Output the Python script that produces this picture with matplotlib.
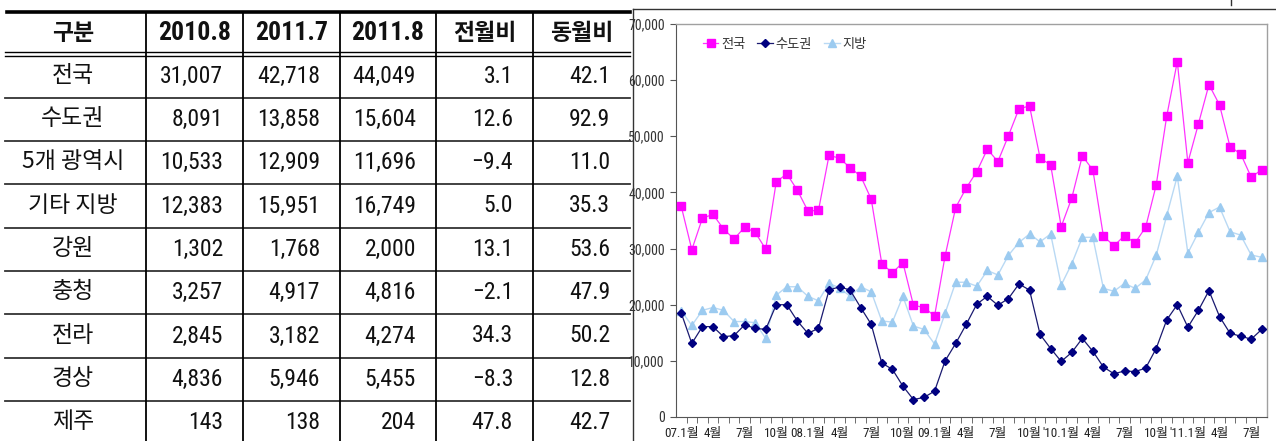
import matplotlib
matplotlib.use("Agg")
import matplotlib.pyplot as plt
from matplotlib import font_manager
import numpy as np

# 폰트: 숫자는 좁은 글꼴(있으면), 한글은 Noto Sans CJK KR
KR = "Noto Sans CJK KR"
ttf = font_manager.fontManager.ttflist
names = {f.name for f in ttf}
NARROW, STRETCH, SCALE = "Liberation Sans", "normal", 0.80
for n in ["Liberation Sans Narrow", "Roboto Condensed", "Open Sans Condensed",
          "Noto Sans Condensed", "DejaVu Sans Condensed"]:
    if n in names:
        NARROW, STRETCH, SCALE = n, "normal", 1.0
        break
else:
    for f in ttf:
        if f.name in ("Roboto", "Noto Sans", "Open Sans", "DejaVu Sans", "Liberation Sans") \
                and str(f.stretch) in ("condensed", "semi-condensed", "extra-condensed"):
            NARROW, STRETCH, SCALE = f.name, f.stretch, 0.95
            break
FAM = [NARROW, KR]

# ---- 표 데이터 ----
headers = ["구분", "2010.8", "2011.7", "2011.8", "전월비", "동월비"]
regions = ["전국", "수도권", "5개 광역시", "기타 지방", "강원", "충청", "전라", "경상", "제주"]
v2010_8 = [31007, 8091, 10533, 12383, 1302, 3257, 2845, 4836, 143]
v2011_7 = [42718, 13858, 12909, 15951, 1768, 4917, 3182, 5946, 138]
v2011_8 = [44049, 15604, 11696, 16749, 2000, 4816, 4274, 5455, 204]
mom = [3.1, 12.6, -9.4, 5.0, 13.1, -2.1, 34.3, -8.3, 47.8]
yoy = [42.1, 92.9, 11.0, 35.3, 53.6, 47.9, 50.2, 12.8, 42.7]

# ---- 그래프 데이터 (07.1월 ~ 11.8월, 월별) ----
xlabels = ["07.1월", "4월", "7월", "10월", "08.1월", "4월", "7월", "10월",
           "09.1월", "4월", "7월", "10월", "'10.1월", "4월", "7월", "10월",
           "'11.1월", "4월", "7월"]
national = [37500, 29800, 35400, 36100, 33500, 31700, 33800, 32900, 29900, 41900,
            43300, 40400, 36700, 36800, 46600, 46100, 44400, 42900, 38800, 27300,
            25700, 27500, 19900, 19500, 18000, 28700, 37300, 40800, 43700, 47700,
            45500, 50100, 54900, 55400, 46100, 44900, 33900, 39000, 46500, 44000,
            32200, 30500, 32300, 31007, 33800, 41300, 53600, 63300, 45300, 52200,
            59200, 55600, 48100, 46900, 42718, 44049]
capital = [18500, 13100, 16100, 16100, 14300, 14500, 16400, 15800, 15600, 20000,
           20000, 17100, 14900, 15800, 22600, 23200, 22600, 19500, 16500, 9600,
           8500, 5500, 3100, 3500, 4600, 10000, 13100, 16500, 20100, 21500,
           19900, 21100, 23700, 22600, 14700, 12200, 9900, 11500, 14000, 11700,
           8900, 7700, 8200, 8091, 8700, 12200, 17300, 20000, 16000, 19000,
           22500, 17900, 14900, 14400, 13858, 15604]
local = [18900, 16300, 19000, 19500, 19000, 17000, 17000, 16800, 14000, 21700,
         23200, 23200, 21500, 20700, 23800, 23000, 21500, 23200, 22300, 17100,
         16900, 21500, 16200, 15600, 13000, 18500, 24000, 24000, 23300, 26100,
         25300, 28800, 31100, 32600, 31200, 32600, 23500, 27300, 32000, 32000,
         22900, 22400, 23800, 22916, 24400, 28800, 35900, 42900, 29200, 32900,
         36400, 37400, 33000, 32400, 28860, 28445]

W, H = 1276, 441
fig = plt.figure(figsize=(W / 100, H / 100), dpi=100)

# ---------------- 표 (왼쪽) ----------------
tab = fig.add_axes([0, 0, 1, 1])
tab.set_xlim(0, W)
tab.set_ylim(H, 0)
tab.axis("off")

col_x = [0, 146, 243, 340, 436, 533, 630]
row_y = [55, 98, 141, 184, 228, 271, 314, 358, 401, 444]

# 선
tab.plot([7, 630], [12, 12], color="black", lw=2.6)
tab.plot([5, 630], [52, 52], color="black", lw=1.0)
tab.plot([5, 630], [55.5, 55.5], color="black", lw=1.0)
for y in row_y[1:-1]:
    tab.plot([5, 630], [y, y], color="#333333", lw=1.3)
for x in col_x[1:-1]:
    tab.plot([x, x], [12, H], color="black", lw=1.3)

# 머리글
for i, h in enumerate(headers):
    cx = (col_x[i] + col_x[i + 1]) / 2
    if i in (1, 2, 3):
        tab.text(cx, 33, h, ha="center", va="center", family=FAM, stretch=STRETCH,
                 fontsize=18.5 * SCALE, fontweight="bold", color="#111111")
    else:
        tab.text(cx, 33, h, ha="center", va="center", family=KR,
                 fontsize=16.5, fontweight="bold", color="#111111")

def fmt(v):
    return f"{v:.1f}".replace("-", "\u2212")

for r, name in enumerate(regions):
    cy = (row_y[r] + row_y[r + 1]) / 2 - 1
    tab.text((col_x[0] + col_x[1]) / 2, cy, name, ha="center", va="center",
             family=KR, fontsize=16.5, color="#111111")
    cells = [f"{v2010_8[r]:,}", f"{v2011_7[r]:,}", f"{v2011_8[r]:,}",
             fmt(mom[r]), fmt(yoy[r])]
    for c, s in enumerate(cells):
        tab.text(col_x[c + 2] - 20, cy + 1, s, ha="right", va="center",
                 family=FAM, stretch=STRETCH, fontsize=17 * SCALE, color="#111111")

# 그래프 영역 테두리
tab.plot([633, W], [9, 9], color="#333333", lw=1.0)
tab.plot([633, 633], [9, H], color="#333333", lw=1.0)
tab.plot([1231, 1231], [0, 5], color="#333333", lw=1.0)

# ---------------- 그래프 (오른쪽) ----------------
ax = fig.add_axes([676 / W, 1 - 417 / H, (1267 - 676) / W, (417 - 24) / H])
x = np.arange(len(national))

ax.plot(x, local, color="#B9D9F4", lw=1.0, marker="^", ms=5.8,
        markerfacecolor="#9CCBF0", markeredgecolor="#9CCBF0", label="지방", zorder=2)
ax.plot(x, capital, color="#1A1A70", lw=0.9, marker="D", ms=4.3,
        markerfacecolor="#000080", markeredgecolor="#000080", label="수도권", zorder=3)
ax.plot(x, national, color="#FF33FF", lw=0.9, marker="s", ms=5.6,
        markerfacecolor="#FF00FF", markeredgecolor="#FF00FF", label="전국", zorder=4)

ax.set_xlim(-0.5, len(national) - 0.5)
ax.set_ylim(0, 70000)
ax.set_yticks(np.arange(0, 70001, 10000))
ax.set_yticklabels([f"{v:,}" for v in range(0, 70001, 10000)])
ax.set_xticks(np.arange(0, len(national), 3))
ax.set_xticklabels(xlabels)
ax.set_xticks(np.arange(0.5, len(national) - 0.5, 1), minor=True)
ax.tick_params(axis="x", which="major", length=0, pad=7, labelcolor="#222222")
ax.tick_params(axis="x", which="minor", length=4, color="#555555", direction="out")
ax.tick_params(axis="y", length=4, color="#555555", pad=4, labelcolor="#333333")
for lab in ax.get_xticklabels():
    lab.set_family(FAM)
    lab.set_stretch(STRETCH)
    lab.set_fontsize(9.4 * SCALE)
for lab in ax.get_yticklabels():
    lab.set_family(FAM)
    lab.set_stretch(STRETCH)
    lab.set_fontsize(10 * SCALE)

for side in ("top", "right"):
    ax.spines[side].set_color("#A0A0A0")
    ax.spines[side].set_linewidth(1.0)
ax.spines["left"].set_color("#555555")
ax.spines["bottom"].set_color("#555555")

handles, labels = ax.get_legend_handles_labels()
leg = ax.legend(handles[::-1], labels[::-1], loc="upper left", ncol=3, frameon=False,
                bbox_to_anchor=(0.025, 0.995), handlelength=1.2, handletextpad=0.2,
                columnspacing=0.9, prop={"family": KR, "size": 9.5})
for t in leg.get_texts():
    t.set_color("#333333")

fig.savefig("out.png", dpi=100)
